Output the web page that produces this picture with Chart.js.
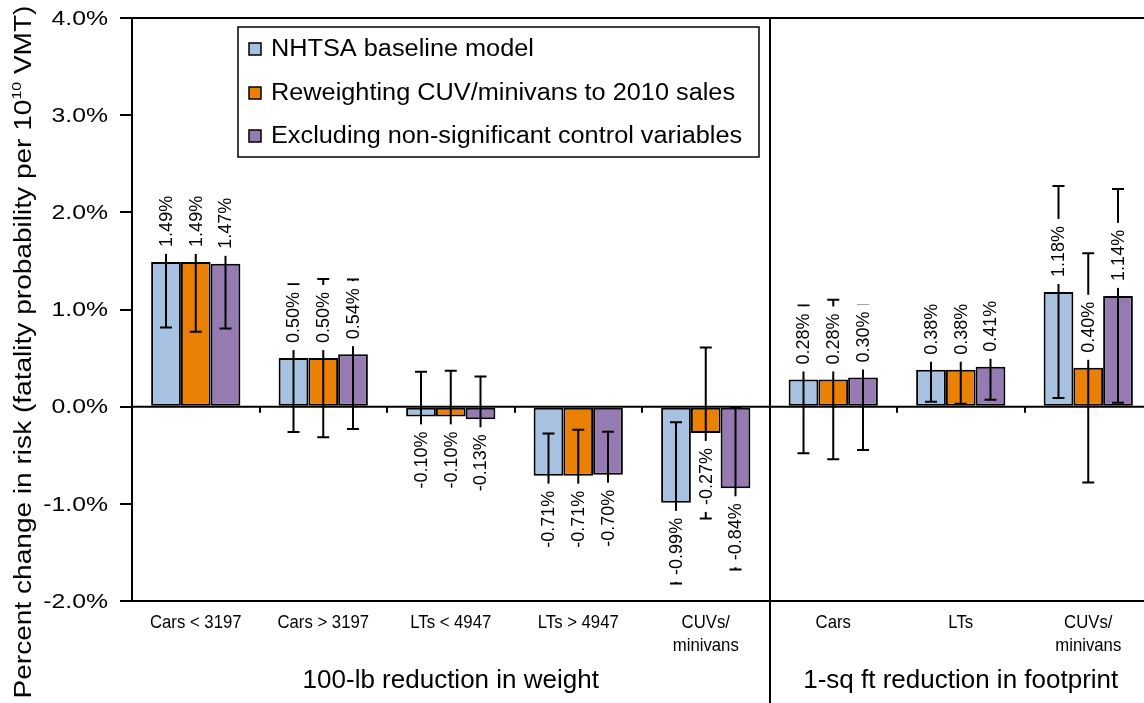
<!DOCTYPE html>
<html>
<head>
<meta charset="utf-8">
<script src="https://cdn.jsdelivr.net/npm/chart.js@4.4.1/dist/chart.umd.min.js"></script>
<style>
    html, body { margin: 0; padding: 0; background: #fff; overflow: hidden; }
    #riskchart { display: block; }
</style>
</head>
<body>
<canvas id="riskchart" width="1160" height="703"></canvas>
<script>
// categories + values (percent change)
var categories = ['Cars < 3197', 'Cars > 3197', 'LTs < 4947', 'LTs > 4947', ['CUVs/', 'minivans'], 'Cars', 'LTs', ['CUVs/', 'minivans']];
var groupLabels = ['100-lb reduction in weight', '1-sq ft reduction in footprint'];
var groupSizes = [5, 3];
var seriesNames = ['NHTSA baseline model', 'Reweighting CUV/minivans to 2010 sales', 'Excluding non-significant control variables'];

var baseline = [1.49, 0.50, -0.10, -0.71, -0.99, 0.28, 0.38, 1.18];
var reweighted = [1.49, 0.50, -0.10, -0.71, -0.27, 0.28, 0.38, 0.40];
var excluding = [1.47, 0.54, -0.13, -0.70, -0.84, 0.30, 0.41, 1.14];

// half width of the error bars
var baselineErr = [0.675, 0.76, 0.46, 0.435, 0.83, 0.76, 0.33, 1.09];
var reweightedErr = [0.72, 0.815, 0.47, 0.473, 0.88, 0.82, 0.35, 1.18];
var excludingErr = [0.665, 0.77, 0.44, 0.443, 0.835, 0.745, 0.34, 1.10];

var yTicks = [-2, -1, 0, 1, 2, 3, 4];

var FONT = '"Liberation Sans", Arial, sans-serif';
var colors = ['#A7C2E0', '#EA8104', '#957BB1'];

// text in the original figure is stretched / squeezed sideways
function wideText(ctx, txt, x, y, sx, align) {
    ctx.save();
    ctx.translate(x, y);
    ctx.scale(sx, 1);
    ctx.textAlign = align;
    ctx.fillText(txt, 0, 0);
    ctx.restore();
}

// error bars, value labels, frame lines, legend and titles
var decorations = {
    id: 'decorations',
    afterDatasetsDraw: function(chart) {
        var ctx = chart.ctx;
        var area = chart.chartArea;
        var y = chart.scales.y;

        // zero line with category ticks
        var y0 = y.getPixelForValue(0);
        ctx.save();
        ctx.strokeStyle = '#000';
        ctx.lineWidth = 2;
        ctx.beginPath();
        ctx.moveTo(area.left, y0);
        ctx.lineTo(area.right, y0);
        var step = (area.right - area.left) / categories.length;
        for (var k = 1; k < categories.length; k++) {
            var tx = Math.round(area.left + k * step);
            ctx.moveTo(tx, y0);
            ctx.lineTo(tx, y0 + 6);
        }
        ctx.stroke();

        // error bars
        chart.data.datasets.forEach(function(ds, i) {
            var meta = chart.getDatasetMeta(i);
            meta.data.forEach(function(bar, j) {
                var v = ds.data[j];
                var e = ds.err[j];
                var top = y.getPixelForValue(v + e);
                var bot = y.getPixelForValue(v - e);
                ctx.beginPath();
                ctx.moveTo(bar.x, top);
                ctx.lineTo(bar.x, bot);
                ctx.moveTo(bar.x - 6, top);
                ctx.lineTo(bar.x + 6, top);
                ctx.moveTo(bar.x - 6, bot);
                ctx.lineTo(bar.x + 6, bot);
                ctx.stroke();
            });
        });

        // value labels, rotated, on white boxes
        ctx.font = '18px ' + FONT;
        chart.data.datasets.forEach(function(ds, i) {
            var meta = chart.getDatasetMeta(i);
            meta.data.forEach(function(bar, j) {
                var v = ds.data[j];
                var txt = v.toFixed(2) + '%';
                var w = ctx.measureText(txt).width;
                var padA = 7, across = 26, gap = 8;
                var boxLen = w + 2 * padA;
                ctx.fillStyle = '#fff';
                ctx.save();
                if (v >= 0) {
                    var bb = bar.y - gap;
                    ctx.fillRect(bar.x - across / 2, bb - boxLen, across, boxLen);
                    ctx.translate(bar.x + 1, bb - padA);
                    ctx.textAlign = 'left';
                } else {
                    var bt = bar.y + gap;
                    ctx.fillRect(bar.x - across / 2, bt, across, boxLen);
                    ctx.translate(bar.x + 1, bt + padA);
                    ctx.textAlign = 'right';
                }
                ctx.rotate(-Math.PI / 2);
                ctx.fillStyle = '#000';
                ctx.textBaseline = 'middle';
                ctx.fillText(txt, 0, 0);
                ctx.restore();
            });
        });
        ctx.restore();
    },
    afterDraw: function(chart) {
        var ctx = chart.ctx;
        var area = chart.chartArea;
        var x = chart.scales.x;
        var y = chart.scales.y;
        var step = (area.right - area.left) / categories.length;
        ctx.save();
        ctx.strokeStyle = '#000';
        ctx.lineWidth = 2;

        // frame: top and bottom lines, group divider
        ctx.beginPath();
        ctx.moveTo(area.left, area.top);
        ctx.lineTo(area.right, area.top);
        ctx.moveTo(area.left, area.bottom);
        ctx.lineTo(area.right, area.bottom);
        var divX = Math.round(area.left + groupSizes[0] * step);
        ctx.moveTo(divX, area.top);
        ctx.lineTo(divX, chart.height);
        ctx.stroke();

        ctx.fillStyle = '#000';
        ctx.textBaseline = 'middle';

        // y tick labels
        ctx.font = '21px ' + FONT;
        y.ticks.forEach(function(t) {
            wideText(ctx, t.value.toFixed(1) + '%', 108, y.getPixelForValue(t.value) + 1, 1.18, 'right');
        });

        // category labels
        ctx.font = '19px ' + FONT;
        categories.forEach(function(c, i) {
            var lines = Array.isArray(c) ? c : [c];
            var px = x.getPixelForValue(i);
            lines.forEach(function(l, k) {
                wideText(ctx, l, px, 623 + k * 23, 0.88, 'center');
            });
        });

        // group labels under the categories
        ctx.font = '26px ' + FONT;
        var start = 0;
        groupLabels.forEach(function(lbl, g) {
            var x1 = area.left + start * step;
            var x2 = area.left + (start + groupSizes[g]) * step;
            wideText(ctx, lbl, (x1 + x2) / 2, 681, 1.0, 'center');
            start += groupSizes[g];
        });

        // y axis title with superscript
        ctx.save();
        ctx.translate(23, 352);
        ctx.rotate(-Math.PI / 2);
        ctx.scale(1.22, 1);
        var p1 = 'Percent change in risk (fatality probability per 10';
        var p2 = '10';
        var p3 = ' VMT)';
        ctx.font = '23px ' + FONT;
        var w1 = ctx.measureText(p1).width;
        var w3 = ctx.measureText(p3).width;
        ctx.font = '13px ' + FONT;
        var w2 = ctx.measureText(p2).width;
        var sx = -(w1 + w2 + w3) / 2;
        ctx.textAlign = 'left';
        ctx.textBaseline = 'alphabetic';
        ctx.font = '23px ' + FONT;
        ctx.fillText(p1, sx, 8);
        ctx.font = '13px ' + FONT;
        ctx.fillText(p2, sx + w1, -2);
        ctx.font = '23px ' + FONT;
        ctx.fillText(p3, sx + w1 + w2, 8);
        ctx.restore();

        // boxed legend
        ctx.fillStyle = '#fff';
        ctx.fillRect(238, 27, 521, 130);
        ctx.lineWidth = 1.5;
        ctx.strokeRect(238, 27, 521, 130);
        ctx.font = '23px ' + FONT;
        ctx.textBaseline = 'middle';
        var rows = [49, 93, 136];
        chart.data.datasets.forEach(function(ds, i) {
            ctx.fillStyle = ds.backgroundColor;
            ctx.fillRect(249, rows[i] - 6, 12, 12);
            ctx.lineWidth = 1.5;
            ctx.strokeRect(249, rows[i] - 6, 12, 12);
            ctx.fillStyle = '#000';
            wideText(ctx, ds.label, 271, rows[i] + 1, 1.1, 'left');
        });
        ctx.restore();
    }
};

var riskChart = new Chart(document.getElementById('riskchart'), {
    type: 'bar',
    data: {
        labels: categories,
        datasets: [{
            label: seriesNames[0],
            data: baseline,
            err: baselineErr,
            backgroundColor: colors[0],
            borderColor: '#000',
            borderWidth: 2,
            borderSkipped: false
        }, {
            label: seriesNames[1],
            data: reweighted,
            err: reweightedErr,
            backgroundColor: colors[1],
            borderColor: '#000',
            borderWidth: 2,
            borderSkipped: false
        }, {
            label: seriesNames[2],
            data: excluding,
            err: excludingErr,
            backgroundColor: colors[2],
            borderColor: '#000',
            borderWidth: 2,
            borderSkipped: false
        }]
    },
    options: {
        responsive: false,
        animation: false,
        devicePixelRatio: 1,
        layout: {
            padding: { left: 0, top: 18, right: 8, bottom: 0 }
        },
        datasets: {
            bar: { categoryPercentage: 0.70, barPercentage: 1.0 }
        },
        scales: {
            x: {
                grid: { display: false },
                border: { display: false },
                ticks: { display: false },
                afterFit: function(s) { s.height = 102; }
            },
            y: {
                min: yTicks[0],
                max: yTicks[yTicks.length - 1],
                afterBuildTicks: function(s) {
                    s.ticks = yTicks.map(function(v) { return { value: v }; });
                },
                grid: {
                    drawOnChartArea: false,
                    drawTicks: true,
                    tickLength: 12,
                    color: '#000',
                    lineWidth: 2
                },
                border: { display: true, color: '#000', width: 2 },
                ticks: { display: false },
                afterFit: function(s) { s.width = 132; }
            }
        },
        plugins: {
            legend: { display: false },
            tooltip: { enabled: false }
        }
    },
    plugins: [decorations]
});
</script>
</body>
</html>
